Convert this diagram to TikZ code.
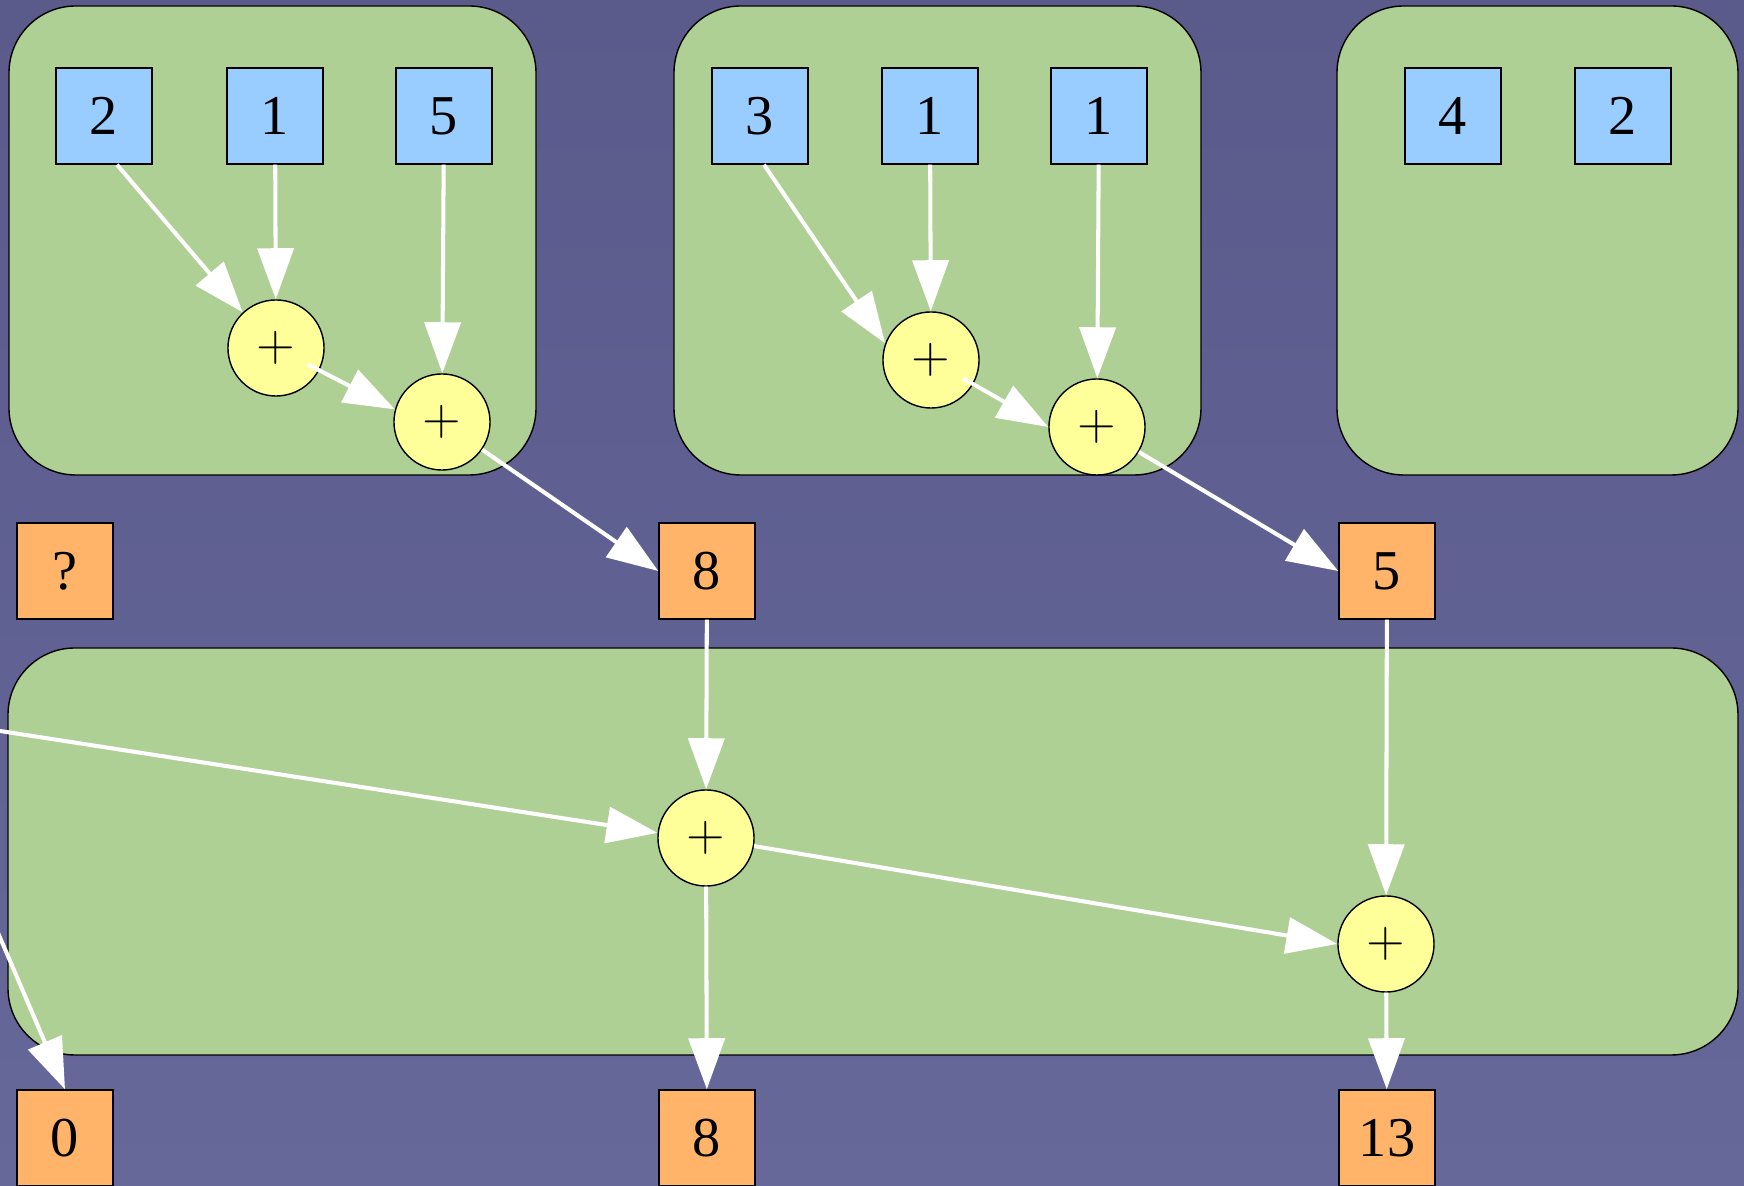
\documentclass[tikz,border=0pt]{standalone}
\usepackage{fontspec}
\setmainfont{Liberation Serif}
\usetikzlibrary{arrows.meta}

\definecolor{bgtop}{HTML}{5A5A8B}
\definecolor{bgbot}{HTML}{66689A}
\definecolor{groupfill}{HTML}{AED094}
\definecolor{inblue}{HTML}{99CCFF}
\definecolor{outorange}{HTML}{FFB469}
\definecolor{addyellow}{HTML}{FFFF99}

\newcommand{\plussign}{{\fontsize{15}{16}\selectfont$+$}}

\tikzset{
	group/.style={draw=black, line width=0.4pt, fill=groupfill, rounded corners=19pt},
	inbox/.style={draw=black, line width=0.4pt, fill=inblue, minimum size=0.96cm, inner sep=0pt},
	outbox/.style={draw=black, line width=0.4pt, fill=outorange, minimum size=0.96cm, inner sep=0pt},
	adder/.style={draw=black, line width=0.4pt, fill=addyellow, circle, minimum size=0.96cm, inner sep=0pt},
	link/.style={white, line width=1.15pt, -{Triangle[length=0.51cm, width=0.36cm]}}
}

\begin{document}
\begin{tikzpicture}[x=0.01cm, y=-0.01cm, font=\fontsize{16}{19}\selectfont]
	\useasboundingbox (0,0) rectangle (1744,1186);
	\clip (0,0) rectangle (1744,1186);
	\shade[top color=bgtop, bottom color=bgbot] (0,0) rectangle (1744,1186);

	% groups
	\draw[group] (9,6) rectangle (536,475);
	\draw[group] (674,6) rectangle (1201,475);
	\draw[group] (1337,6) rectangle (1738,475);
	\draw[group] (8,648) rectangle (1738,1055);

	% first group
	\node[inbox] (a2) at (104,116) {2};
	\node[inbox] (a1) at (275,116) {1};
	\node[inbox] (a5) at (444,116) {5};
	\node[adder] (s1) at (276,348) {\plussign};
	\node[adder] (s2) at (442,422) {\plussign};

	% second group
	\node[inbox] (b3) at (760,116) {3};
	\node[inbox] (b1) at (930,116) {1};
	\node[inbox] (c1) at (1099,116) {1};
	\node[adder] (s3) at (931,360) {\plussign};
	\node[adder] (s4) at (1097,427) {\plussign};

	% third group
	\node[inbox] (d4) at (1453,116) {4};
	\node[inbox] (d2) at (1623,116) {2};

	% partial sums
	\node[outbox] (q) at (65,571) {?};
	\node[outbox] (r8) at (707,571) {8};
	\node[outbox] (r5) at (1387,571) {5};

	% running sum
	\node[adder] (s5) at (706,838) {\plussign};
	\node[adder] (s6) at (1386,944) {\plussign};
	\node[outbox] (t0) at (65,1138) {0};
	\node[outbox] (t8) at (707,1138) {8};
	\node[outbox] (t13) at (1387,1138) {13};

	\coordinate (inA) at (-200,700);
	\coordinate (inB) at (-100,704);

	\draw[link] ([xshift=0.13cm]a2.south) -- (s1.133);
	\draw[link] (a1) -- (s1);
	\draw[link] (a5) -- (s2);
	\draw[link, shorten <=-0.13cm] (s1) -- (s2.165);
	\draw[link] (s2) -- (r8.west);

	\draw[link] ([xshift=0.04cm]b3.south) -- (s3.160);
	\draw[link] (b1) -- (s3);
	\draw[link] (c1) -- (s4);
	\draw[link, shorten <=-0.12cm] (s3) -- (s4.west);
	\draw[link] (s4) -- (r5.west);

	\draw[link] (r8) -- (s5);
	\draw[link] (r5) -- (s6);
	\draw[link] (inA) -- (s5.174);
	\draw[link] (s5) -- (s6.west);
	\draw[link] (s5) -- (t8);
	\draw[link] (s6) -- (t13);
	\draw[link] (inB) -- (t0.north);
\end{tikzpicture}
\end{document}
